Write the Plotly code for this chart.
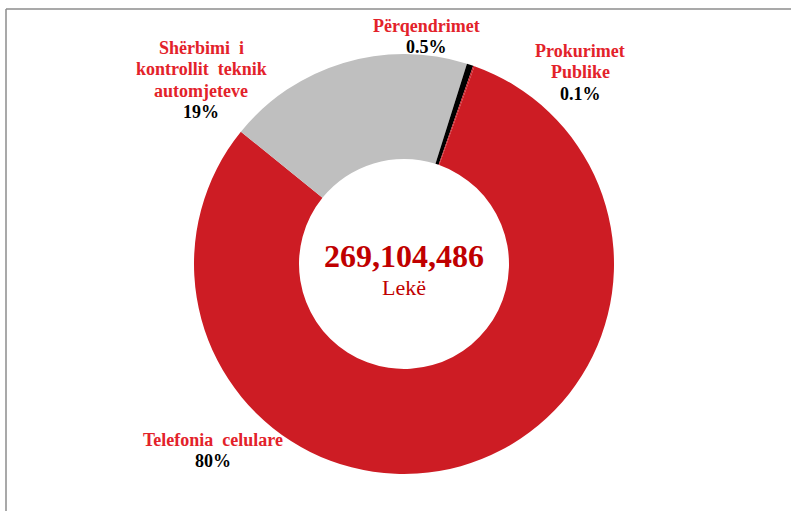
import plotly.graph_objects as go

# ---- data ----
categories = ["Telefonia  celulare", "Shërbimi  i<br>kontrollit  teknik<br>automjeteve", "Përqendrimet", "Prokurimet<br>Publike"]
shares = [80.4, 19.0, 0.5, 0.1]
share_labels = ["80%", "19%", "0.5%", "0.1%"]
total_value = "269,104,486"
currency = "Lekë"

slice_colors = ["#CD1C24", "#BFBFBF", "#000000", "#CD1C24"]
W, H = 791, 511

def px(x):
    return x / W

def py(y):
    return 1 - y / H

fig = go.Figure()
fig.add_trace(go.Pie(
    labels=[c.replace("<br>", " ") for c in categories],
    values=shares,
    hole=0.5,
    sort=False,
    direction="clockwise",
    rotation=19.6,
    textinfo="none",
    hoverinfo="label+percent",
    marker=dict(colors=slice_colors, line=dict(width=0)),
    domain=dict(x=[px(194), px(614)], y=[py(474), py(54)]),
    showlegend=False,
))

# label positions: (centre x, y of first line) in pixels
label_pos = [(213, 440), (201, 48), (427, 26), (580, 51)]
line_step = 21.3
serif = "Liberation Serif, Times New Roman, serif"
for cat, lab, (x, y0) in zip(categories, share_labels, label_pos):
    lines = cat.split("<br>")
    for i, ln in enumerate(lines + [lab]):
        is_value = i == len(lines)
        fig.add_annotation(
            x=px(x), y=py(y0 + i * line_step), xref="paper", yref="paper",
            text="<b>" + ln + "</b>",
            showarrow=False,
            font=dict(family=serif, size=18, color="#000000" if is_value else "#E3222A"),
            xanchor="center", yanchor="middle",
        )

fig.add_annotation(
    x=px(404), y=py(256), xref="paper", yref="paper",
    text="<b>" + total_value + "</b>", showarrow=False,
    font=dict(family=serif, size=32, color="#C00000"),
    xanchor="center", yanchor="middle",
)
fig.add_annotation(
    x=px(404), y=py(287), xref="paper", yref="paper",
    text=currency, showarrow=False,
    font=dict(family=serif, size=22, color="#C00000"),
    xanchor="center", yanchor="middle",
)

# frame lines (top and left)
fig.add_shape(type="line", xref="paper", yref="paper", x0=px(6), x1=1.01, y0=py(9), y1=py(9),
              line=dict(color="#8C8C8C", width=1.5))
fig.add_shape(type="line", xref="paper", yref="paper", x0=px(6), x1=px(6), y0=py(9), y1=-0.01,
              line=dict(color="#8C8C8C", width=1.5))

fig.update_layout(
    width=W, height=H,
    margin=dict(l=0, r=0, t=0, b=0),
    paper_bgcolor="white", plot_bgcolor="white",
)

fig.write_html("out.html", config={"displayModeBar": False},
               post_script="document.body.style.margin='0';")
